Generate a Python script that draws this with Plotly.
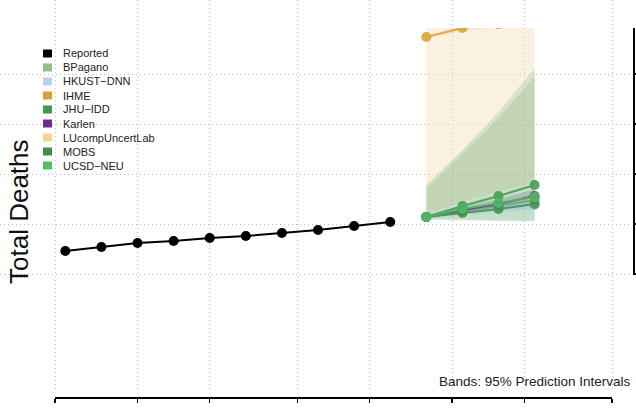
import plotly.graph_objects as go
import pandas as pd

W, H = 636, 408
FONT = "Liberation Sans, Arial, sans-serif"

# ---------------- data ----------------
reported_dates = ["2021-04-17", "2021-04-24", "2021-05-01", "2021-05-08", "2021-05-15",
                  "2021-05-22", "2021-05-29", "2021-06-05", "2021-06-12", "2021-06-19"]
reported = [10920, 11080, 11240, 11320, 11440, 11520, 11640, 11760, 11920, 12080]

forecast_dates = ["2021-06-26", "2021-07-03", "2021-07-10", "2021-07-17"]

models = ["BPagano", "HKUST-DNN", "IHME", "JHU-IDD", "Karlen",
          "LUcompUncertLab", "MOBS", "UCSD-NEU"]
legend_names = ["Reported", "BPagano", "HKUST\u2212DNN", "IHME", "JHU\u2212IDD", "Karlen",
                "LUcompUncertLab", "MOBS", "UCSD\u2212NEU"]
legend_colors = ["#000000", "#90BF8F", "#B8D0F2", "#DB9E32", "#3F994B", "#6A2C8E",
                 "#F8D38C", "#3F904B", "#4FC063"]

colors = {"BPagano": (144, 191, 143), "HKUST-DNN": (170, 196, 238), "IHME": (219, 158, 50),
          "JHU-IDD": (63, 153, 75), "Karlen": (106, 44, 142), "LUcompUncertLab": (240, 215, 170),
          "MOBS": (63, 144, 75), "UCSD-NEU": (79, 192, 99)}

median_BPagano = [12280, 12520, 12720, 12960]
lower_BPagano = [12240, 12380, 12520, 12640]
upper_BPagano = [12320, 12680, 12960, 13280]

median_HKUST = [12280, 12480, 12640, 12760]
lower_HKUST = [12220, 12360, 12480, 12560]
upper_HKUST = [12340, 12580, 12780, 12940]

median_IHME = [19480, 19840, 20000, 20160]
lower_IHME = [19400, 19700, 19850, 19950]
upper_IHME = [19560, 19980, 20150, 20370]

median_JHU = [12280, 12720, 13120, 13560]
lower_JHU = [12160, 12140, 12120, 12100]
upper_JHU = [13560, 14960, 16480, 18240]

median_Karlen = [12280, 12560, 12800, 13120]
lower_Karlen = [12240, 12440, 12620, 12840]
upper_Karlen = [12320, 12680, 12980, 13400]

lower_LUcomp = [12400, 12900, 13300, 13700]
upper_LUcomp = [22000, 24000, 26000, 28000]

median_MOBS = [12280, 12440, 12600, 12800]
lower_MOBS = [12200, 12180, 12160, 12140]
upper_MOBS = [13440, 14800, 16240, 17880]

median_UCSD = [12280, 12600, 12840, 13080]
lower_UCSD = [12240, 12460, 12620, 12780]
upper_UCSD = [12320, 12740, 13060, 13380]

medians = {"BPagano": median_BPagano, "HKUST-DNN": median_HKUST, "IHME": median_IHME,
           "JHU-IDD": median_JHU, "Karlen": median_Karlen, "MOBS": median_MOBS,
           "UCSD-NEU": median_UCSD}
lowers = {"LUcompUncertLab": lower_LUcomp, "IHME": lower_IHME, "JHU-IDD": lower_JHU,
          "MOBS": lower_MOBS, "BPagano": lower_BPagano, "HKUST-DNN": lower_HKUST,
          "Karlen": lower_Karlen, "UCSD-NEU": lower_UCSD}
uppers = {"LUcompUncertLab": upper_LUcomp, "IHME": upper_IHME, "JHU-IDD": upper_JHU,
          "MOBS": upper_MOBS, "BPagano": upper_BPagano, "HKUST-DNN": upper_HKUST,
          "Karlen": upper_Karlen, "UCSD-NEU": upper_UCSD}
band_alpha = {"LUcompUncertLab": 0.35, "IHME": 0.08, "JHU-IDD": 0.17, "MOBS": 0.15,
              "BPagano": 0.2, "HKUST-DNN": 0.35, "Karlen": 0.12, "UCSD-NEU": 0.15}

grid_dates = ["2021-04-15", "2021-05-01", "2021-05-15", "2021-06-01",
              "2021-06-15", "2021-07-01", "2021-07-15", "2021-08-01"]
grid_values = [10000, 12000, 14000, 16000, 18000]

# ---------------- scales (pixel layout of the frame) ----------------
t0 = pd.Timestamp(grid_dates[0]); t1 = pd.Timestamp(grid_dates[-1])
px0, px1 = 55, 612
ppd = (px1 - px0) / ((t1 - t0).days)          # pixels per day
XR = 630
x_range = [(t0 - pd.Timedelta(days=px0 / ppd)).isoformat(),
           (t0 + pd.Timedelta(days=(XR - px0) / ppd)).isoformat()]

def val_at(py):  # value at pixel row py (from top)
    return 10000 + (274 - py) * 40

def rgba(c, a):
    return f"rgba({c[0]},{c[1]},{c[2]},{a})"

fig = go.Figure()

# empty helper traces so each helper subplot exists
for xa, ya in [("x", "y"), ("x3", "y3"), ("x4", "y4")]:
    fig.add_trace(go.Scatter(x=[None], y=[None], xaxis=xa, yaxis=ya, showlegend=False,
                             hoverinfo="skip", mode="markers"))

# bands
for m in ["LUcompUncertLab", "IHME", "JHU-IDD", "MOBS", "BPagano", "UCSD-NEU", "Karlen", "HKUST-DNN"]:
    fig.add_trace(go.Scatter(x=forecast_dates, y=lowers[m], xaxis="x2", yaxis="y2", mode="lines",
                             line=dict(width=0), showlegend=False, hoverinfo="skip"))
    fig.add_trace(go.Scatter(x=forecast_dates, y=uppers[m], xaxis="x2", yaxis="y2", mode="lines",
                             line=dict(width=0), fill="tonexty",
                             fillcolor=rgba(colors[m], band_alpha[m]),
                             showlegend=False, hoverinfo="skip"))

# reported
fig.add_trace(go.Scatter(x=reported_dates, y=reported, xaxis="x2", yaxis="y2",
                         mode="lines+markers", line=dict(color="black", width=2),
                         marker=dict(color="black", size=10), showlegend=False))

# forecast medians
for m in ["IHME", "HKUST-DNN", "BPagano", "JHU-IDD", "Karlen", "MOBS", "UCSD-NEU"]:
    c = colors[m]
    if m == "HKUST-DNN":
        c = (160, 188, 235)
    if m == "BPagano":
        c = (110, 170, 110)
    fig.add_trace(go.Scatter(x=forecast_dates, y=medians[m], xaxis="x2", yaxis="y2",
                             mode="lines+markers", opacity=0.85,
                             line=dict(color=rgba(c, 1), width=2),
                             marker=dict(color=rgba(c, 1), size=10), showlegend=False))

grid_style = dict(showgrid=True, gridcolor="#BDBDBD", gridwidth=1, griddash="1px,3px",
                  zeroline=False, showline=False, showticklabels=False, ticks="")

fig.update_layout(
    width=W, height=H, margin=dict(l=0, r=0, t=0, b=0),
    paper_bgcolor="white", plot_bgcolor="rgba(0,0,0,0)",
    showlegend=False, hovermode=False, dragmode=False,
    font=dict(family=FONT, color="#222222"),
    # grid subplot
    xaxis=dict(type="date", domain=[0, XR / W], range=x_range, anchor="y",
               tickvals=grid_dates, **grid_style),
    yaxis=dict(domain=[(H - 392) / H, 1], range=[val_at(392), val_at(0)], anchor="x",
               tickvals=grid_values, **grid_style),
    # data subplot
    xaxis2=dict(type="date", domain=[0, XR / W], range=x_range, anchor="y2", visible=False),
    yaxis2=dict(domain=[0, (H - 28) / H], range=[val_at(H), val_at(28)], anchor="x2", visible=False),
    # bottom axis
    xaxis3=dict(type="date", domain=[px0 / W, px1 / W], range=[grid_dates[0], grid_dates[-1]],
                anchor="y3", tickvals=grid_dates, ticks="outside", ticklen=4, tickwidth=1.5,
                tickcolor="black", showline=True, linecolor="black", linewidth=1.5,
                showticklabels=False, showgrid=False, zeroline=False),
    yaxis3=dict(domain=[(H - 397) / H, (H - 300) / H], range=[0, 1], anchor="x3", visible=False),
    # right axis
    xaxis4=dict(domain=[0, 633 / W], range=[0, 1], anchor="y4", visible=False),
    yaxis4=dict(domain=[(H - 275) / H, (H - 28) / H], range=[val_at(275), val_at(28)],
                anchor="x4", side="right", tickvals=grid_values, ticks="outside", ticklen=4,
                tickwidth=2, tickcolor="black", showline=True, linecolor="black", linewidth=2,
                showticklabels=False, showgrid=False, zeroline=False),
)

# legend (manual, R style boxes)
annotations = []
shapes = []
y_first, step = 53.5, 14
for i, (name, col) in enumerate(zip(legend_names, legend_colors)):
    yc = y_first + i * step
    shapes.append(dict(type="rect", xref="paper", yref="paper",
                       x0=43 / W, x1=52 / W, y0=1 - (yc - 4) / H, y1=1 - (yc + 4) / H,
                       fillcolor=col, line=dict(width=0)))
    annotations.append(dict(text=name, xref="paper", yref="paper", x=61 / W, y=1 - yc / H,
                            xanchor="left", yanchor="middle", showarrow=False,
                            font=dict(size=11, family=FONT, color="#222222")))

annotations.append(dict(text="Total Deaths", xref="paper", yref="paper", x=19 / W, y=1 - 212 / H,
                        textangle=-90, xanchor="center", yanchor="middle", showarrow=False,
                        font=dict(size=26, family=FONT, color="#111111")))
annotations.append(dict(text="Bands: 95% Prediction Intervals", xref="paper", yref="paper",
                        x=633 / W, y=1 - 381 / H, xanchor="right", yanchor="middle",
                        showarrow=False, font=dict(size=13.5, family=FONT, color="#222222")))

fig.update_layout(annotations=annotations, shapes=shapes)

fig.write_html("out.html", config={"displayModeBar": False, "staticPlot": True},
               post_script="document.body.style.margin='0px';document.body.style.padding='0px';")
